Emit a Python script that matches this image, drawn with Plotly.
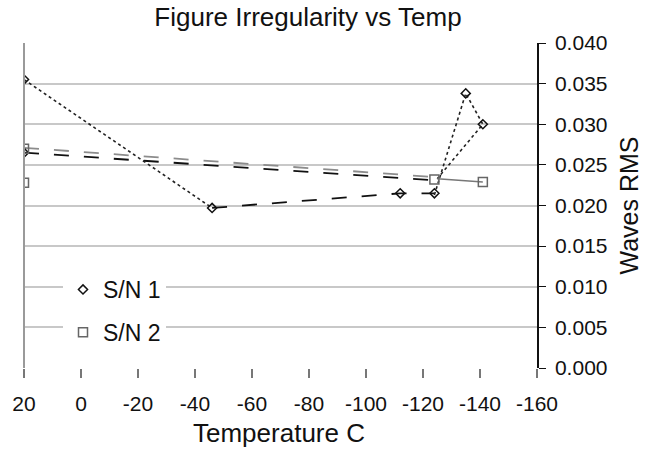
import plotly.graph_objects as go

# ---- data ----
sn1_temp = [20, 20, -46, -112, -124, -135, -141]
sn1_rms = [0.0355, 0.0265, 0.0197, 0.0215, 0.0215, 0.0338, 0.0300]

sn2_temp = [20, 20, -124, -141]
sn2_rms = [0.0270, 0.0228, 0.0232, 0.0229]

# connecting runs
run_a_temp = [20, -46]
run_a_rms = [0.0355, 0.0197]
run_b_temp = [20, -124]
run_b_rms = [0.0265, 0.0231]
run_c_temp = [20, -124]
run_c_rms = [0.0271, 0.0235]
run_d_temp = [-46, -112, -124]
run_d_rms = [0.0197, 0.0215, 0.0215]
run_e_temp = [-124, -135, -141, -125]
run_e_rms = [0.0213, 0.0338, 0.0300, 0.0233]
run_f_temp = [-125, -141]
run_f_rms = [0.0233, 0.0229]

x_ticks = [20, 0, -20, -40, -60, -80, -100, -120, -140, -160]
y_ticks = [0.000, 0.005, 0.010, 0.015, 0.020, 0.025, 0.030, 0.035, 0.040]

FONT = "Liberation Sans, Arial, sans-serif"
W, H = 653, 451
ML, MR, MT, MB = 24, 116, 43, 83
PW, PH = W - ML - MR, H - MT - MB

fig = go.Figure()

def run(xs, ys, color, dash, width=1.6):
    fig.add_trace(go.Scatter(x=xs, y=ys, mode="lines", showlegend=False,
                             hoverinfo="skip",
                             line=dict(color=color, dash=dash, width=width)))

run(run_c_temp, run_c_rms, "#8c8c8c", "longdash", 1.8)
run(run_b_temp, run_b_rms, "#111111", "longdash", 1.8)
run(run_a_temp, run_a_rms, "#222222", "dot", 1.6)
run(run_d_temp, run_d_rms, "#111111", "longdash", 1.8)
run(run_e_temp, run_e_rms, "#222222", "dot", 1.6)
run(run_f_temp, run_f_rms, "#777777", "solid", 1.4)

fig.add_trace(go.Scatter(x=sn1_temp, y=sn1_rms, mode="markers", name="S/N 1",
                         legendgroup="a",
                         marker=dict(symbol="diamond-open", size=7,
                                     color="#111111", line=dict(width=1.5))))
fig.add_trace(go.Scatter(x=sn2_temp, y=sn2_rms, mode="markers", name="S/N 2",
                         legendgroup="b",
                         marker=dict(symbol="square-open", size=9,
                                     color="#666666", line=dict(width=1.5))))

fig.update_layout(
    width=W, height=H,
    margin=dict(l=ML, r=MR, t=MT, b=MB),
    paper_bgcolor="white", plot_bgcolor="white",
    font=dict(family=FONT, size=21, color="#111111"),
    title=dict(text="Figure Irregularity vs Temp", x=308 / W, xanchor="center",
               y=1 - 17 / H, yanchor="middle",
               font=dict(family=FONT, size=26, color="#111111")),
    legend=dict(x=(63 - ML) / PW, y=(MT + PH - 268) / PH, xanchor="left", yanchor="top",
                bgcolor="white", borderwidth=0,
                traceorder="grouped", tracegroupgap=10,
                font=dict(family=FONT, size=23, color="#111111")),
    showlegend=True,
)

fig.update_xaxes(
    range=[20, -160], tickvals=x_ticks, ticktext=[str(v) for v in x_ticks],
    showgrid=False, zeroline=False, showline=False,
    ticks="outside", ticklen=9, tickcolor="#777777", tickwidth=1.5,
    ticklabelstandoff=8,
    tickfont=dict(family=FONT, size=21, color="#111111"),
)
fig.update_yaxes(
    range=[0, 0.040], tickvals=y_ticks, tickformat=".3f", side="right",
    showgrid=True, gridcolor="#c8c8c8", gridwidth=1.5, zeroline=False,
    showline=True, linecolor="#111111", linewidth=1.5,
    ticks="outside", ticklen=7, tickcolor="#111111",
    ticklabelstandoff=5,
    tickfont=dict(family=FONT, size=21, color="#111111"),
    title=dict(text="Waves RMS", standoff=14,
               font=dict(family=FONT, size=25, color="#111111")),
)

# left border of plot area
fig.add_shape(type="line", xref="paper", yref="paper", x0=0, x1=0, y0=0, y1=1,
              line=dict(color="#9a9a9a", width=2))

fig.add_annotation(text="Temperature C", xref="paper", yref="paper",
                   x=(279 - ML) / PW, y=-(433 - (MT + PH)) / PH,
                   xanchor="center", yanchor="middle", showarrow=False,
                   font=dict(family=FONT, size=26, color="#111111"))

fig.write_html("out.html")
